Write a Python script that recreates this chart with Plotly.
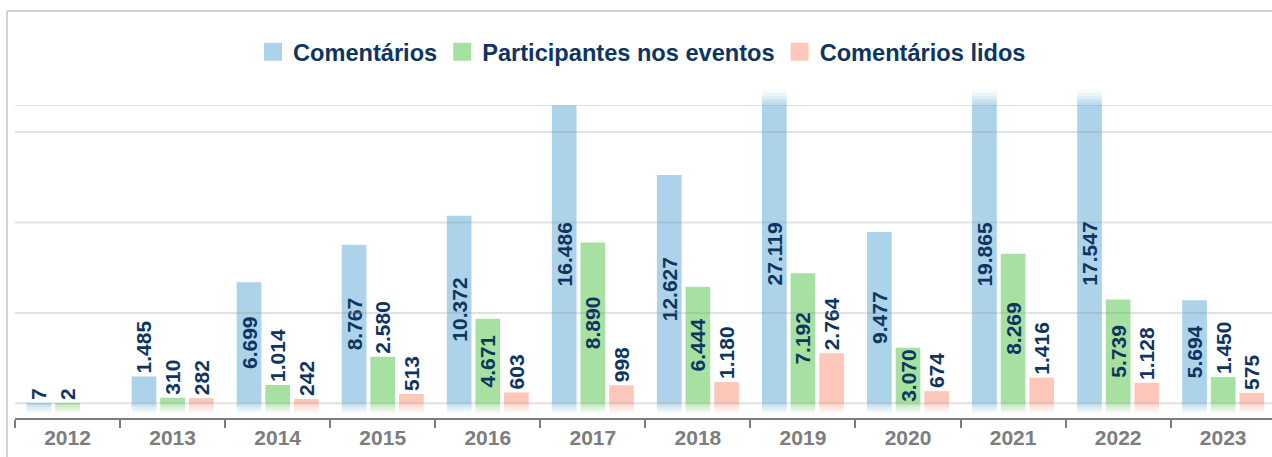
import plotly.graph_objects as go

# ---- data -------------------------------------------------------------
years = ["2012", "2013", "2014", "2015", "2016", "2017",
         "2018", "2019", "2020", "2021", "2022", "2023"]
comentarios = [7, 1485, 6699, 8767, 10372, 16486, 12627, 27119, 9477, 19865, 17547, 5694]
participantes = [2, 310, 1014, 2580, 4671, 8890, 6444, 7192, 3070, 8269, 5739, 1450]
comentarios_lidos = [None, 282, 242, 513, 603, 998, 1180, 2764, 674, 1416, 1128, 575]

series_names = ["Comentários", "Participantes nos eventos", "Comentários lidos"]
series_values = [comentarios, participantes, comentarios_lidos]
series_colors = ["#acd3e9", "#a6e1a1", "#fdc8b9"]
grid_values = [0, 5000, 10000, 15000]

# ---- styling / geometry ------------------------------------------------
W, H = 1272, 457
PLOT_LEFT, PLOT_TOP, PLOT_BOTTOM = 15, 105, 418
ZERO_PX = 403.3
Y_MAX = 16500
UNITS_PER_PX = Y_MAX / (ZERO_PX - PLOT_TOP)
Y_MIN = -(PLOT_BOTTOM - ZERO_PX) * UNITS_PER_PX
CAT_PX = 105.06
X_HI = -0.5 + (W - PLOT_LEFT) / CAT_PX
plot_w = W - PLOT_LEFT
plot_h = PLOT_BOTTOM - PLOT_TOP

BAR_WIDTH = 0.235
BAR_OFFSETS = [-0.39, -0.1175, 0.155]

FONT = "Arial, Liberation Sans, sans-serif"
NAVY = "#0e3561"
AXIS_GRAY = "#7d7d7d"
LABEL_SIZE = 21
LABEL_FONT = dict(family=FONT, size=LABEL_SIZE, color=NAVY, weight="bold")


def fmt(v):
    return f"{v:,}".replace(",", ".")


def label_len_px(s):
    # approximate rendered length of a bold numeric label
    return LABEL_SIZE * sum(0.278 if ch == "." else 0.556 for ch in s)


def rgba(hex_color, a):
    h = hex_color.lstrip("#")
    r, g, b = int(h[0:2], 16), int(h[2:4], 16), int(h[4:6], 16)
    return f"rgba({r},{g},{b},{a})"


fig = go.Figure()
shapes = []
annotations = []

FADE_ALPHAS = [0.8, 0.6, 0.42, 0.26, 0.12]
BOTTOM_FADE = 10 * UNITS_PER_PX / len(FADE_ALPHAS)
TOP_FADE_PX = 15 / len(FADE_ALPHAS)

for name, vals, color, off in zip(series_names, series_values, series_colors, BAR_OFFSETS):
    texts, positions = [], []
    for idx, v in enumerate(vals):
        if v is None:
            texts.append("")
            positions.append("none")
            continue
        s = fmt(v)
        if v > Y_MAX:
            # bar runs off the top: label sits centred in the visible part
            texts.append("")
            positions.append("none")
            annotations.append(dict(
                x=idx + off + BAR_WIDTH / 2, xref="x", y=Y_MAX / 2, yref="y",
                text=s, textangle=-90, showarrow=False, font=LABEL_FONT,
            ))
            # fading cap above the plot area
            for j, a in enumerate(FADE_ALPHAS):
                shapes.append(dict(
                    type="rect", xref="x", yref="paper",
                    x0=idx + off, x1=idx + off + BAR_WIDTH,
                    y0=1 + j * TOP_FADE_PX / plot_h, y1=1 + (j + 1) * TOP_FADE_PX / plot_h,
                    fillcolor=rgba(color, a), line=dict(width=0), layer="below",
                ))
            continue
        texts.append(s)
        bar_px = v / UNITS_PER_PX
        positions.append("inside" if bar_px >= label_len_px(s) else "outside")

    # soft fade below the baseline
    for i, a in enumerate(FADE_ALPHAS):
        fig.add_trace(go.Bar(
            x=years,
            y=[BOTTOM_FADE if v is not None else None for v in vals],
            base=[-(i + 1) * BOTTOM_FADE] * len(vals),
            width=BAR_WIDTH, offset=off,
            marker=dict(color=rgba(color, a), line=dict(width=0)),
            showlegend=False, hoverinfo="skip",
        ))

    fig.add_trace(go.Bar(
        x=years, y=vals, name=name,
        width=BAR_WIDTH, offset=off,
        marker=dict(color=color, line=dict(width=0)),
        text=texts, textposition=positions,
        insidetextanchor="middle", textangle=-90,
        constraintext="none",
        textfont=LABEL_FONT, insidetextfont=LABEL_FONT, outsidetextfont=LABEL_FONT,
        showlegend=False,
    ))

# legend entries with larger square swatches
for name, color in zip(series_names, series_colors):
    fig.add_trace(go.Scatter(
        x=[None], y=[None], mode="markers", name=name,
        marker=dict(symbol="square", size=16, color=color, line=dict(width=2, color=color)),
    ))

for gv in grid_values + [Y_MAX]:
    shapes.append(dict(type="line", xref="paper", x0=0, x1=1, yref="y", y0=gv, y1=gv,
                       line=dict(color="rgba(150,150,150,0.28)", width=2), layer="above"))

# outer frame (top and left edges)
fx = (7 - PLOT_LEFT) / plot_w
fy_top = (PLOT_BOTTOM - 11) / plot_h
fy_bot = (PLOT_BOTTOM - H) / plot_h
shapes.append(dict(type="line", xref="paper", yref="paper", x0=fx, x1=1.01, y0=fy_top, y1=fy_top,
                   line=dict(color="#c4c4c4", width=1.5)))
shapes.append(dict(type="line", xref="paper", yref="paper", x0=fx, x1=fx, y0=fy_top, y1=fy_bot,
                   line=dict(color="#c4c4c4", width=1.5)))

fig.update_layout(
    width=W, height=H,
    margin=dict(l=PLOT_LEFT, r=0, t=PLOT_TOP, b=H - PLOT_BOTTOM, pad=0),
    paper_bgcolor="white", plot_bgcolor="white",
    barmode="overlay",
    font=dict(family=FONT),
    legend=dict(
        orientation="h", xref="paper", yref="paper",
        x=(642 - PLOT_LEFT) / plot_w, xanchor="center",
        y=(PLOT_BOTTOM - 52) / plot_h, yanchor="middle",
        font=dict(family=FONT, size=23.6, color=NAVY, weight="bold"),
        bgcolor="rgba(0,0,0,0)",
    ),
    xaxis=dict(
        type="category", range=[-0.5, X_HI], automargin=False,
        tickson="boundaries", ticks="outside", ticklen=8, tickwidth=2, tickcolor=AXIS_GRAY,
        showline=True, linecolor=AXIS_GRAY, linewidth=2,
        showgrid=False,
        tickfont=dict(family=FONT, size=21, color=AXIS_GRAY, weight="bold"),
    ),
    yaxis=dict(
        range=[Y_MIN, Y_MAX], automargin=False,
        showgrid=False, zeroline=False, showticklabels=False, showline=False, ticks="",
    ),
    shapes=shapes,
    annotations=annotations,
)

fig.write_html("out.html")
